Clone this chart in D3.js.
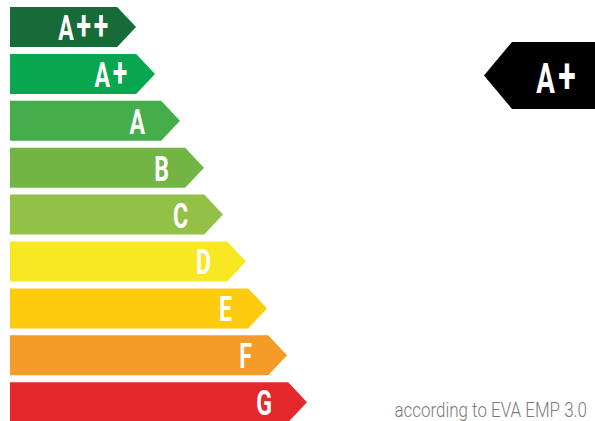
<!DOCTYPE html>
<html>
<head>
<meta charset="utf-8">
<script src="https://cdn.jsdelivr.net/npm/d3@7"></script>
<style>
  body { margin: 0; background: #fff; }
  svg { display: block; }
</style>
</head>
<body>
<div id="chart"></div>
<script>
// Energy classes, top to bottom
const classes = ['A++', 'A+', 'A', 'B', 'C', 'D', 'E', 'F', 'G'];
// Arrow length per class (px of the label scale)
const lengths = [136, 155, 180, 204, 223, 246, 267, 287, 307];
const colors = ['#166b38', '#09a650', '#45ad4a', '#72b545', '#93c148', '#f7e823', '#fecb0e', '#f49b28', '#e4292d'];
// Current rating shown on the black marker
const rating = 'A+';
const footnote = 'according to EVA EMP 3.0';

const width = 595, height = 421;
const svg = d3.select('#chart').append('svg')
    .attr('width', width)
    .attr('height', height);

// Vertical band for each class
const y = d3.scaleBand()
    .domain(classes)
    .range([7, 422.2])
    .paddingInner(0.147)
    .paddingOuter(0);
// Horizontal scale for arrow tips
const x = d3.scaleLinear().domain([0, 595]).range([0, 595]);
const left = 10;
const condense = 0.66;

// Write a class label: letter, then wider plus signs
function classLabel(sel, size) {
    sel.each(function(d) {
        const t = d3.select(this);
        const label = typeof d === 'string' ? d : d.cls;
        t.append('tspan').text(label.replace(/\+/g, ''));
        const plus = label.replace(/[^+]/g, '');
        if (plus) {
            t.append('tspan')
                .style('font-size', (size * 1.15) + 'px')
                .attr('dx', size * 0.12)
                .attr('dy', -size * 0.02)
                .style('letter-spacing', (size * 0.12) + 'px')
                .text(plus);
        }
    });
}

const bars = svg.selectAll('.bar')
    .data(classes.map((c, i) => ({cls: c, len: lengths[i], color: colors[i]})))
    .join('g')
    .attr('class', 'bar')
    .attr('transform', d => `translate(0,${y(d.cls)})`);

bars.append('path')
    .attr('fill', d => d.color)
    .attr('d', d => {
        const h = y.bandwidth();
        const tip = x(d.len);
        const body = tip - h * 0.47;
        return `M${left},0H${body}L${tip},${h / 2}L${body},${h}H${left}Z`;
    });

// Labels, right aligned before the tip
bars.append('text')
    .attr('transform', d => {
        const off = d.cls.includes('+') ? 25 : 35;
        return `translate(${x(d.len) - off},${y.bandwidth() / 2 + 13}) scale(${condense},1)`;
    })
    .attr('text-anchor', 'end')
    .attr('fill', '#fff')
    .style('font-family', 'Roboto, sans-serif')
    .style('font-weight', 700)
    .style('font-size', '35px')
    .call(classLabel, 35);

// Black rating marker pointing left
const cy = y(rating) + y.bandwidth() / 2 + 1.5;
const mh = 67;
const marker = svg.append('g')
    .attr('transform', `translate(0,${cy})`);
marker.append('path')
    .attr('fill', '#000')
    .attr('d', `M484,0L512,${-mh / 2}H${width + 2}V${mh / 2}H512Z`);
marker.append('text')
    .datum(rating)
    .attr('transform', `translate(579,${17.5}) scale(${condense},1)`)
    .attr('text-anchor', 'end')
    .attr('fill', '#fff')
    .style('font-family', 'Roboto, sans-serif')
    .style('font-weight', 700)
    .style('font-size', '42px')
    .call(classLabel, 42);

// Footnote
svg.append('text')
    .attr('transform', `translate(587,417) scale(0.87,1)`)
    .attr('text-anchor', 'end')
    .attr('fill', '#7a7a7a')
    .style('font-family', 'Roboto, sans-serif')
    .style('font-weight', 300)
    .style('font-size', '19.5px')
    .text(footnote);
</script>
</body>
</html>
